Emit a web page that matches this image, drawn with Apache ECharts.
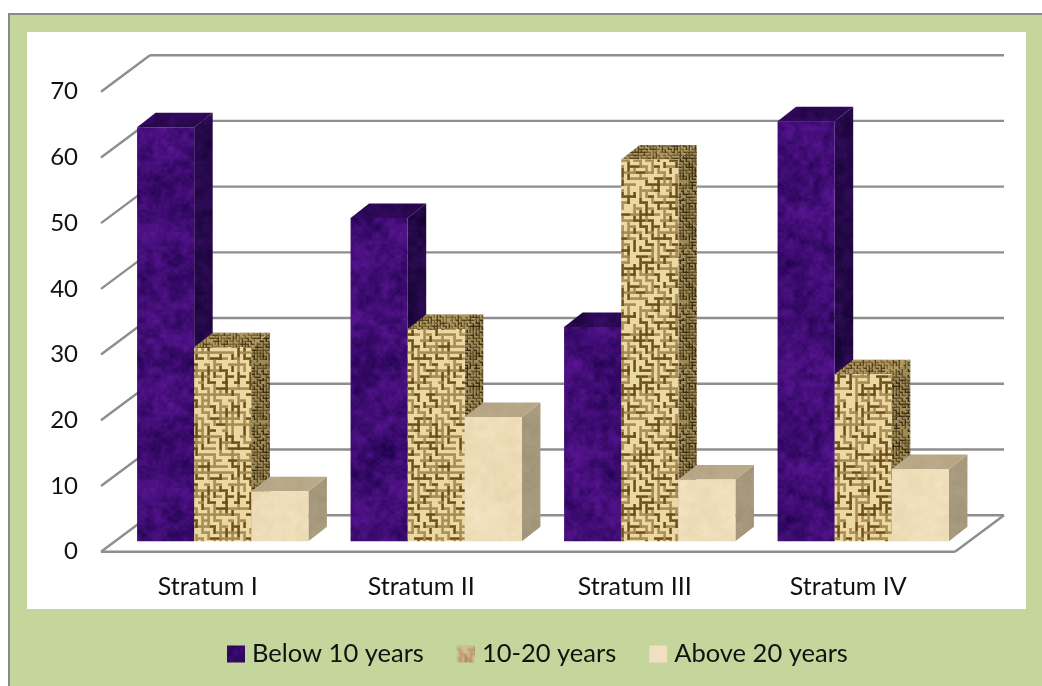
<!DOCTYPE html>
<html>
<head>
<meta charset="utf-8">
<style>html,body{margin:0;padding:0;background:#fff}#chart{width:1042px;height:686px}</style>
<script src="https://cdn.jsdelivr.net/npm/echarts@6/dist/echarts.min.js"></script>
</head>
<body>
<div id="chart"></div>
<script>
// Share of respondents by years of residence, per stratum
const categories = ['Stratum I', 'Stratum II', 'Stratum III', 'Stratum IV'];
const belowTen = [63, 49.2, 32.6, 63.9];
const tenToTwenty = [29.5, 32.3, 58.1, 25.4];
const aboveTwenty = [7.6, 18.9, 9.4, 11];
const yTicks = [0, 10, 20, 30, 40, 50, 60, 70];

const seriesNames = ['Below 10 years', '10-20 years', 'Above 20 years'];
const FONT = 'Lato, "Open Sans", sans-serif';

// Oblique projection of the chart box: how far the back wall sits from the front edge
const BOX_DX = 49, BOX_DY = -36.5;
// Bars stand a little way into the floor and have a fixed depth
const BAR_INSET = [15, -10.5];
const BAR_DEPTH = [18.5, -14.5];
const BAR_BAND = 0.2675;

// Deterministic value noise used for the material tiles
function hash(x, y, s) {
  const v = Math.sin(x * 127.1 + y * 311.7 + s * 74.7) * 43758.5453;
  return v - Math.floor(v);
}
function smoothNoise(x, y, period, s) {
  const x0 = Math.floor(x), y0 = Math.floor(y);
  const fx = x - x0, fy = y - y0;
  const ux = fx * fx * (3 - 2 * fx), uy = fy * fy * (3 - 2 * fy);
  const g = (a, b) => hash((a + period) % period, (b + period) % period, s);
  const top = g(x0, y0) * (1 - ux) + g(x0 + 1, y0) * ux;
  const bot = g(x0, y0 + 1) * (1 - ux) + g(x0 + 1, y0 + 1) * ux;
  return top * (1 - uy) + bot * uy;
}
function noiseTile(size, base, spread, seed) {
  const c = document.createElement('canvas');
  c.width = c.height = size;
  const ctx = c.getContext('2d');
  const img = ctx.createImageData(size, size);
  for (let y = 0; y < size; y++) {
    for (let x = 0; x < size; x++) {
      const p1 = 12, p2 = 36, p3 = 90;
      const n = 0.35 * smoothNoise(x / size * p1, y / size * p1, p1, seed)
              + 0.4 * smoothNoise(x / size * p2, y / size * p2, p2, seed + 1)
              + 0.25 * smoothNoise(x / size * p3, y / size * p3, p3, seed + 2);
      const t = (n - 0.5) * 2.4;
      const i = (y * size + x) * 4;
      img.data[i] = base[0] + spread[0] * t;
      img.data[i + 1] = base[1] + spread[1] * t;
      img.data[i + 2] = base[2] + spread[2] * t;
      img.data[i + 3] = 255;
    }
  }
  ctx.putImageData(img, 0, 0);
  return { image: c, repeat: 'repeat' };
}
// Burlap weave: irregular horizontal and vertical threads, softened by a light blur
function weaveTile(cell, ground, dark, mid, seed, soft) {
  const n = 20, size = n * cell;
  const raw = document.createElement('canvas');
  raw.width = raw.height = size;
  const rc = raw.getContext('2d');
  rc.fillStyle = ground;
  rc.fillRect(0, 0, size, size);
  const th = Math.max(1, cell * 0.42);
  for (let j = 0; j < n; j++) {
    for (let i = 0; i < n; i++) {
      const r = hash(i, j, seed);
      const q = hash(i, j, seed + 1);
      const skip = hash(i, j, seed + 2);
      if (skip < 0.1) continue;
      rc.fillStyle = r > 0.6 ? dark : mid;
      const len = q > 0.55 ? cell * 2 : cell;
      if ((i + j) % 2 === 0) {
        rc.fillRect(i * cell, j * cell + cell * 0.55, len, th);
      } else {
        rc.fillRect(i * cell + cell * 0.55, j * cell, th, len);
      }
    }
  }
  const c = document.createElement('canvas');
  c.width = c.height = size;
  const ctx = c.getContext('2d');
  ctx.filter = 'blur(' + soft + 'px)';
  for (let a = -1; a <= 1; a++) {
    for (let b = -1; b <= 1; b++) {
      ctx.drawImage(raw, a * size, b * size);
    }
  }
  return { image: c, repeat: 'repeat' };
}

const materials = [
  {
    front: noiseTile(256, [62, 12, 114], [30, 10, 36], 3),
    side: noiseTile(256, [36, 8, 72], [18, 5, 24], 5),
    top: noiseTile(256, [42, 8, 82], [16, 4, 24], 7)
  },
  {
    front: weaveTile(6, '#ecd8a2', '#6a4e1a', '#a88a50', 11, 0.6),
    side: weaveTile(3, '#a08a58', '#32270f', '#5e4c26', 13, 0.5),
    top: weaveTile(3, '#b09860', '#4a3a1a', '#786232', 17, 0.5)
  },
  {
    front: noiseTile(256, [238, 221, 184], [6, 7, 10], 19),
    side: noiseTile(256, [166, 152, 122], [8, 8, 8], 23),
    top: noiseTile(256, [184, 168, 136], [6, 6, 6], 29)
  }
];

// Legend swatches use a coarser, softer rendering of each material
const swatches = [
  materials[0].front,
  weaveTile(5, '#d8c096', '#8f7448', '#b0946a', 31, 1.2),
  '#f0dfc0'
];

function renderBar(seriesIndex) {
  return function (params, api) {
    const band = api.size([1, 0])[0];
    const w = band * BAR_BAND;
    const base = api.coord([api.value(0), 0]);
    const head = api.coord([api.value(0), api.value(1)]);
    const x0 = base[0] + BAR_INSET[0] + (seriesIndex - 1.5) * w;
    const x1 = x0 + w;
    const yb = base[1] + BAR_INSET[1];
    const yt = head[1] + BAR_INSET[1];
    const dx = BAR_DEPTH[0], dy = BAR_DEPTH[1];
    const m = materials[seriesIndex];
    const face = (points, fill) => ({
      type: 'polygon', shape: { points }, style: { fill, stroke: null }
    });
    return {
      type: 'group',
      children: [
        face([[x1, yb], [x1 + dx, yb + dy], [x1 + dx, yt + dy], [x1, yt]], m.side),
        face([[x0, yt], [x1, yt], [x1 + dx, yt + dy], [x0 + dx, yt + dy]], m.top),
        face([[x0, yb], [x1, yb], [x1, yt], [x0, yt]], m.front)
      ]
    };
  };
}

// Back wall rules, their returns along the side wall, and the floor outline
function renderWalls(params, api) {
  const cs = params.coordSys;
  const v = api.value(0);
  const y = api.coord([0, v])[1];
  const line = (a, b) => ({
    type: 'line',
    shape: { x1: a[0], y1: a[1], x2: b[0], y2: b[1] },
    style: { stroke: '#8e8e8e', lineWidth: 2.4 }
  });
  const left = cs.x, right = cs.x + cs.width;
  const children = [
    line([left, y], [left + BOX_DX, y + BOX_DY]),
    line([left + BOX_DX, y + BOX_DY], [right + BOX_DX, y + BOX_DY])
  ];
  if (v === 0) {
    children.push(line([left, y], [right, y]));
    children.push(line([right, y], [right + BOX_DX, y + BOX_DY]));
  }
  return { type: 'group', children };
}

const barValues = [belowTen, tenToTwenty, aboveTwenty];

const option = {
  animation: false,
  backgroundColor: '#ffffff',
  textStyle: { fontFamily: FONT },
  graphic: [
    { type: 'rect', z: -10, shape: { x: 9, y: 14, width: 1045, height: 684 },
      style: { fill: '#c4d69b', stroke: '#8a8a8a', lineWidth: 2 } },
    { type: 'rect', z: -9, shape: { x: 27, y: 32, width: 999, height: 577 },
      style: { fill: '#ffffff' } }
  ],
  legend: {
    data: seriesNames,
    left: 222,
    top: 636,
    icon: 'rect',
    itemWidth: 18,
    itemHeight: 17,
    itemGap: 33,
    textStyle: { fontFamily: FONT, fontSize: 25.5, color: '#111111', padding: [0, 0, 0, 2] }
  },
  grid: { left: 101, top: 91.7, width: 854, height: 460 },
  xAxis: {
    type: 'category',
    data: categories,
    axisLine: { show: false },
    axisTick: { show: false },
    axisLabel: { margin: 23, fontFamily: FONT, fontSize: 25, color: '#111111' }
  },
  yAxis: {
    type: 'value',
    min: 0,
    max: 70,
    interval: 10,
    axisLine: { show: false },
    axisTick: { show: false },
    splitLine: { show: false },
    axisLabel: { margin: 23, fontFamily: FONT, fontSize: 24, color: '#111111' }
  },
  series: [
    {
      type: 'custom',
      name: 'walls',
      silent: true,
      z: 1,
      clip: false,
      renderItem: renderWalls,
      encode: { y: 0 },
      data: yTicks.map(v => [v])
    }
  ].concat(seriesNames.map((name, s) => ({
    type: 'custom',
    name,
    z: 2 + s,
    clip: false,
    itemStyle: { color: swatches[s] },
    renderItem: renderBar(s),
    encode: { x: 0, y: 1 },
    data: barValues[s].map((v, i) => [i, v])
  })))
};

echarts.init(document.getElementById('chart'), null, { renderer: 'canvas' }).setOption(option);
</script>
</body>
</html>
